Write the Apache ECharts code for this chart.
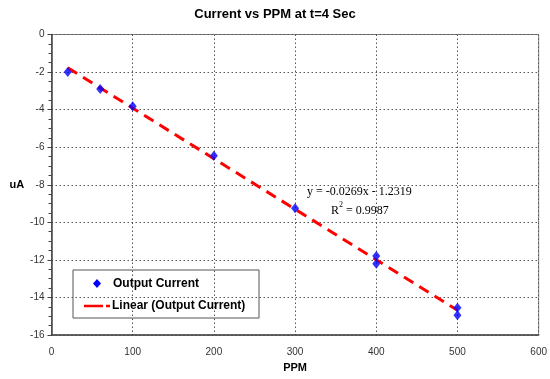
<!DOCTYPE html>
<html>
<head>
<meta charset="utf-8">
<script src="https://cdn.jsdelivr.net/npm/echarts@6/dist/echarts.min.js"></script>
<style>html,body{margin:0;padding:0;background:#fff;}#c{width:550px;height:379px;}</style>
</head>
<body>
<div id="c"></div>
<script>
var ppm = [20, 60, 100, 200, 300, 400, 400, 500, 500];
var current = [-2.0, -2.9, -3.82, -6.45, -9.25, -11.8, -12.2, -14.55, -14.95];
var trendSlope = -0.0269;
var trendIntercept = -1.2319;
var trendX = [20, 500];
var xTicks = [0, 100, 200, 300, 400, 500, 600];
var yTicks = [0, -2, -4, -6, -8, -10, -12, -14, -16];
var legendNames = ['Output Current', 'Linear (Output Current)'];

var scatterData = ppm.map(function (x, i) { return [x, current[i]]; });
var trendData = trendX.map(function (x) { return [x, trendSlope * x + trendIntercept]; });

var chart = echarts.init(document.getElementById('c'));
var labelFont = 'Liberation Sans, Arial, sans-serif';
chart.setOption({
  animation: false,
  backgroundColor: '#ffffff',
  title: {
    text: 'Current vs PPM at t=4 Sec',
    left: 'center',
    top: 3,
    textStyle: { fontFamily: labelFont, fontWeight: 'bold', fontSize: 13, color: '#000' }
  },
  grid: {
    left: 51.5, right: 9.5, top: 34.5, bottom: 44,
    show: true, borderColor: '#7f7f7f', borderWidth: 1, backgroundColor: '#fff'
  },
  xAxis: {
    type: 'value', min: 0, max: 600, interval: 100,
    name: 'PPM', nameLocation: 'middle', nameGap: 27,
    nameTextStyle: { fontFamily: labelFont, fontWeight: 'bold', fontSize: 11, color: '#000' },
    axisLine: { show: true, onZero: false, lineStyle: { color: '#444', width: 1.5 } },
    axisTick: { show: false },
    axisLabel: { fontFamily: labelFont, fontSize: 10, color: '#333', margin: 12 },
    splitLine: { show: true, lineStyle: { color: '#555', type: [1.5, 2.5], width: 1 } }
  },
  yAxis: {
    type: 'value', min: -16, max: 0, interval: 2,
    name: 'uA', nameLocation: 'middle', nameGap: 23, nameRotate: 0,
    nameTextStyle: { fontFamily: labelFont, fontWeight: 'bold', fontSize: 11, color: '#000' },
    axisLine: { show: true, onZero: false, lineStyle: { color: '#444', width: 1.5 } },
    axisTick: { show: true, inside: false, length: 4, lineStyle: { color: '#444' } },
    minorTick: { show: true, splitNumber: 4, length: 3, lineStyle: { color: '#444' } },
    axisLabel: { fontFamily: labelFont, fontSize: 10, color: '#333', margin: 7 },
    splitLine: { show: true, lineStyle: { color: '#555', type: [1.5, 2.5], width: 1 } }
  },
  series: [
    {
      name: legendNames[1],
      type: 'line',
      data: trendData,
      showSymbol: false,
      symbol: 'none',
      itemStyle: { color: '#ff0000' },
      lineStyle: { color: '#ff0000', width: 3, type: [11, 7] },
      z: 2
    },
    {
      name: legendNames[0],
      type: 'scatter',
      data: scatterData,
      symbol: 'diamond',
      symbolSize: [8, 10],
      itemStyle: { color: '#0000ff' },
      z: 3
    }
  ],
  graphic: [
    {
      type: 'text', left: 307, top: 186,
      style: {
        text: 'y = -0.0269x - 1.2319',
        font: '12px "Liberation Serif", "Times New Roman", serif',
        fill: '#000'
      }
    },
    {
      type: 'text', left: 331, top: 201,
      style: {
        text: '{a|R}{s|2}{a| = 0.9987}',
        rich: {
          a: { font: '12px "Liberation Serif", "Times New Roman", serif', fill: '#000', verticalAlign: 'bottom', lineHeight: 16 },
          s: { font: '8px "Liberation Serif", "Times New Roman", serif', fill: '#000', verticalAlign: 'top', lineHeight: 16, padding: [0, 0, 8, 0] }
        }
      }
    },
    {
      type: 'group', left: 72.5, top: 269.5, z: 100,
      children: [
        { type: 'rect', shape: { x: 0, y: 0, width: 186, height: 48 }, style: { fill: '#fff', stroke: '#555', lineWidth: 1 } },
        { type: 'polygon', shape: { points: [[24, 9], [28, 13.5], [24, 18], [20, 13.5]] }, style: { fill: '#0000ff' } },
        { type: 'text', left: 40, top: 8, style: { text: legendNames[0], font: 'bold 12px "Liberation Sans", Arial, sans-serif', fill: '#000' } },
        { type: 'line', shape: { x1: 11, y1: 36, x2: 37, y2: 36 }, style: { stroke: '#ff0000', lineWidth: 2.5, lineDash: [19, 3] } },
        { type: 'text', left: 39, top: 30, style: { text: legendNames[1], font: 'bold 12px "Liberation Sans", Arial, sans-serif', fill: '#000' } }
      ]
    }
  ]
});
</script>
</body>
</html>
